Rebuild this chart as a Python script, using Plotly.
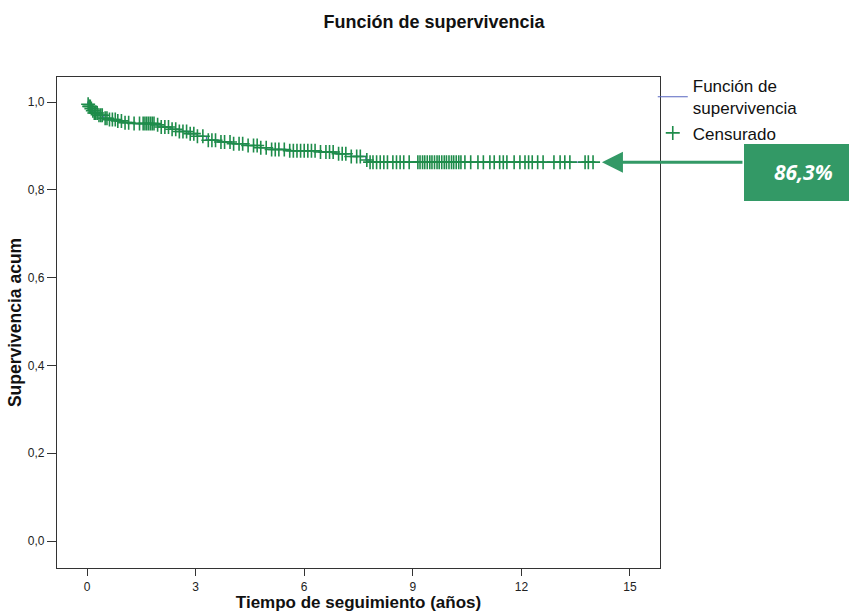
import plotly.graph_objects as go
import numpy as np

# Kaplan-Meier step function (time in years, cumulative survival)
event_times = [0.0, 0.02, 0.05, 0.1, 0.15, 0.2, 0.3, 0.45, 0.6, 0.8, 1.0, 1.3, 1.9,
               2.05, 2.3, 2.55, 2.8, 3.05, 3.3, 3.6, 4.0, 4.4, 4.8, 5.1, 5.5, 6.4,
               6.9, 7.3, 7.7, 7.8]
survival = [1.0, 0.995, 0.99, 0.985, 0.98, 0.975, 0.97, 0.963, 0.960, 0.957, 0.953,
            0.951, 0.948, 0.943, 0.938, 0.933, 0.928, 0.922, 0.913, 0.909, 0.905,
            0.901, 0.896, 0.892, 0.889, 0.886, 0.882, 0.876, 0.868, 0.863]
end_time = 13.98

# Censored observations (years)
censored_times = [0.03, 0.06, 0.09, 0.12, 0.16, 0.2, 0.24, 0.28, 0.33, 0.38, 0.42, 0.5,
                  0.55, 0.62, 0.7, 0.78, 0.85, 0.95, 1.05, 1.15, 1.3, 1.45, 1.55, 1.6,
                  1.65, 1.7, 1.75, 1.8, 1.85, 1.95, 2.05, 2.15, 2.25, 2.35, 2.45, 2.55,
                  2.65, 2.75, 2.85, 2.95, 3.05, 3.2, 3.35, 3.45, 3.55, 3.7, 3.8, 3.95,
                  4.05, 4.2, 4.3, 4.45, 4.6, 4.7, 4.8, 4.95, 5.1, 5.2, 5.3, 5.45, 5.6,
                  5.7, 5.8, 5.9, 6.0, 6.1, 6.2, 6.3, 6.45, 6.6, 6.7, 6.8, 6.95, 7.05,
                  7.15, 7.3, 7.45, 7.55, 7.73, 7.82, 7.9, 8.0, 8.1, 8.2, 8.3, 8.45, 8.55,
                  8.65, 8.75, 8.9, 9.14, 9.2, 9.27, 9.33, 9.4, 9.47, 9.53, 9.6, 9.67,
                  9.73, 9.8, 9.87, 9.93, 10.0, 10.07, 10.13, 10.2, 10.27, 10.33, 10.44,
                  10.6, 10.8, 10.95, 11.13, 11.25, 11.4, 11.5, 11.6, 11.8, 11.96, 12.1,
                  12.2, 12.3, 12.45, 12.6, 12.9, 13.07, 13.2, 13.34, 13.76, 13.85, 13.98]

x_ticks = [0, 3, 6, 9, 12, 15]
y_ticks = [0.0, 0.2, 0.4, 0.6, 0.8, 1.0]
final_label = "86,3%"
final_value = 0.863

step_x = event_times + [end_time]
step_y = survival + [survival[-1]]

et = np.array(event_times)
sv = np.array(survival)
cens_y = [sv[np.searchsorted(et, t, side="right") - 1] for t in censored_times]

fig = go.Figure()
fig.add_trace(go.Scatter(
    x=step_x, y=step_y, mode="lines", line=dict(shape="hv", color="#5766c0", width=1.2),
    name="Función de<br>supervivencia"))
fig.add_trace(go.Scatter(
    x=censored_times, y=cens_y, mode="markers",
    marker=dict(symbol="cross-thin", size=10, line=dict(color="#1e8c4a", width=1.6)),
    name="Censurado"))

font_main = "Liberation Sans, Arial, sans-serif"

fig.update_layout(
    width=849, height=612,
    margin=dict(l=57, r=189, t=77, b=44),
    paper_bgcolor="white", plot_bgcolor="white",
    separators=",.",
    font=dict(family=font_main, color="#222"),
    title=dict(text="<b>Función de supervivencia</b>", x=434/849, xanchor="center",
               y=1 - 22/612, yanchor="middle", font=dict(size=18, color="#111")),
    showlegend=True,
    legend=dict(x=0.988, xanchor="left", y=1.018, yanchor="top", bgcolor="rgba(0,0,0,0)",
                font=dict(size=17, color="#111"), tracegroupgap=0),
    xaxis=dict(range=[-0.83, 15.83], tickvals=x_ticks, ticktext=[str(v) for v in x_ticks],
               showgrid=False, zeroline=False, showline=True, mirror=True, automargin=False,
               linecolor="#333", linewidth=1.3, ticks="outside", ticklen=7, tickcolor="#333",
               tickfont=dict(size=12, color="#222"),
               title=dict(text="<b>Tiempo de seguimiento (años)</b>", font=dict(size=17, color="#111"),
                          standoff=3)),
    yaxis=dict(range=[-0.0615, 1.057], tickvals=y_ticks, tickformat=".1f",
               showgrid=False, zeroline=False, showline=True, mirror=True, automargin=False,
               linecolor="#333", linewidth=1.3, ticks="outside", ticklen=9, tickcolor="#333",
               tickfont=dict(size=12, color="#222"),
               title=dict(text="<b>Supervivencia acum</b>", font=dict(size=17.5, color="#111"),
                          standoff=1)),
)

# Green label box
fig.add_shape(type="rect", xref="paper", yref="paper",
              x0=(744 - 57) / 603, x1=(852 - 57) / 603,
              y0=(568 - 201) / 491, y1=(568 - 144) / 491,
              fillcolor="#339966", line=dict(width=0), layer="above")
fig.add_annotation(xref="paper", yref="paper", x=(803 - 57) / 603, y=(568 - 172) / 491,
                   xanchor="center", yanchor="middle",
                   text="<b><i>" + final_label + "</i></b>", showarrow=False,
                   font=dict(family="Open Sans, sans-serif", size=21, color="white"))
# Arrow pointing to the final survival value
fig.add_annotation(x=(602 - 87) / 36.2, y=final_value, xref="x", yref="y",
                   ax=142, ay=0, axref="pixel", ayref="pixel",
                   text="", showarrow=True, arrowhead=2, arrowsize=1.4, arrowwidth=3,
                   arrowcolor="#339966", standoff=0)

fig.write_html("out.html")
